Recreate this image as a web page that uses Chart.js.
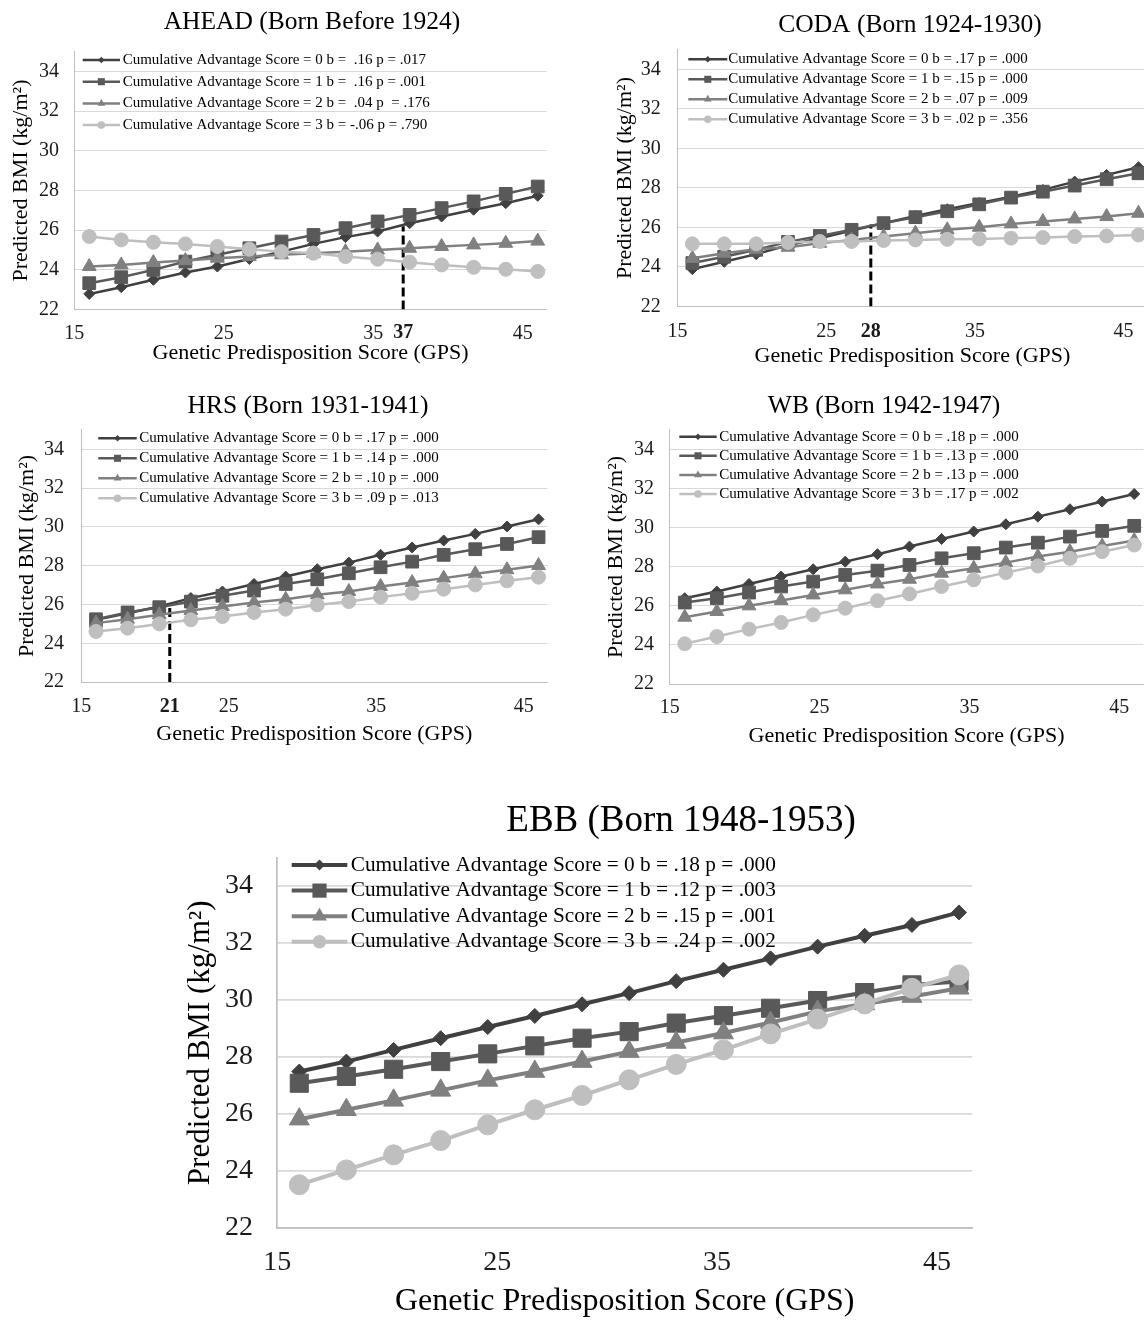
<!DOCTYPE html>
<html>
<head>
<meta charset="utf-8">
<script src="https://cdn.jsdelivr.net/npm/chart.js@4.4.1/dist/chart.umd.min.js"></script>
<style>
html,body{margin:0;padding:0;background:#fff;overflow:hidden;width:1144px;height:1324px;}
body{position:relative;}
.panel{position:absolute;}
.panel canvas{display:block;}
</style>
</head>
<body>
<div class="panel" id="pA"><canvas id="cA"></canvas></div>
<div class="panel" id="pB"><canvas id="cB"></canvas></div>
<div class="panel" id="pC"><canvas id="cC"></canvas></div>
<div class="panel" id="pD"><canvas id="cD"></canvas></div>
<div class="panel" id="pE"><canvas id="cE"></canvas></div>
<script>
// ---------------- DATA ----------------
const gps = [16, 18.14, 20.29, 22.43, 24.57, 26.71, 28.86, 31, 33.14, 35.29, 37.43, 39.57, 41.71, 43.86, 46];
const yTickValues = [22, 24, 26, 28, 30, 32, 34];
const xTickValues = [15, 25, 35, 45];
const yAxisTitle = 'Predicted BMI (kg/m²)';
const xAxisTitle = 'Genetic Predisposition Score (GPS)';

const aheadTitle = 'AHEAD (Born Before 1924)';
const aheadLegend = [
  'Cumulative Advantage Score = 0 b =  .16 p = .017',
  'Cumulative Advantage Score = 1 b =  .16 p = .001',
  'Cumulative Advantage Score = 2 b =  .04 p  = .176',
  'Cumulative Advantage Score = 3 b = -.06 p = .790'
];
const aheadScore0 = [22.79, 23.13, 23.50, 23.87, 24.17, 24.55, 24.92, 25.31, 25.65, 25.93, 26.35, 26.69, 27.03, 27.36, 27.73];
const aheadScore1 = [23.33, 23.63, 24.00, 24.42, 24.76, 25.09, 25.43, 25.76, 26.10, 26.44, 26.77, 27.11, 27.45, 27.83, 28.20];
const aheadScore2 = [24.17, 24.25, 24.37, 24.47, 24.59, 24.67, 24.76, 24.84, 24.92, 25.00, 25.09, 25.18, 25.26, 25.34, 25.45];
const aheadScore3 = [25.68, 25.51, 25.39, 25.31, 25.18, 25.04, 24.92, 24.84, 24.67, 24.54, 24.39, 24.25, 24.13, 24.03, 23.92];
const aheadCutoff = 37;
const aheadCutoffTop = 26.2;

const codaTitle = 'CODA (Born 1924-1930)';
const codaLegend = [
  'Cumulative Advantage Score = 0 b = .17 p = .000',
  'Cumulative Advantage Score = 1 b = .15 p = .000',
  'Cumulative Advantage Score = 2 b = .07 p = .009',
  'Cumulative Advantage Score = 3 b = .02 p = .356'
];
const codaScore0 = [23.89, 24.26, 24.65, 25.10, 25.45, 25.84, 26.21, 26.58, 26.92, 27.24, 27.55, 27.90, 28.32, 28.66, 29.05];
const codaScore1 = [24.20, 24.52, 24.87, 25.27, 25.57, 25.88, 26.22, 26.52, 26.82, 27.17, 27.51, 27.81, 28.12, 28.44, 28.74];
const codaScore2 = [24.44, 24.70, 24.90, 25.00, 25.20, 25.37, 25.54, 25.71, 25.88, 26.01, 26.18, 26.30, 26.43, 26.55, 26.72];
const codaScore3 = [25.17, 25.17, 25.17, 25.24, 25.29, 25.29, 25.34, 25.37, 25.40, 25.42, 25.46, 25.49, 25.54, 25.57, 25.62];
const codaCutoff = 28;
const codaCutoffTop = 26.15;

const hrsTitle = 'HRS (Born 1931-1941)';
const hrsLegend = [
  'Cumulative Advantage Score = 0 b = .17 p = .000',
  'Cumulative Advantage Score = 1 b = .14 p = .000',
  'Cumulative Advantage Score = 2 b = .10 p = .000',
  'Cumulative Advantage Score = 3 b = .09 p = .013'
];
const hrsScore0 = [25.21, 25.55, 25.90, 26.33, 26.67, 27.06, 27.44, 27.82, 28.16, 28.56, 28.94, 29.30, 29.64, 30.02, 30.39];
const hrsScore1 = [25.24, 25.59, 25.86, 26.15, 26.45, 26.72, 27.06, 27.30, 27.61, 27.92, 28.21, 28.56, 28.85, 29.12, 29.47];
const hrsScore2 = [25.04, 25.24, 25.47, 25.69, 25.90, 26.10, 26.27, 26.50, 26.67, 26.93, 27.13, 27.36, 27.58, 27.79, 28.01];
const hrsScore3 = [24.61, 24.78, 25.00, 25.21, 25.38, 25.59, 25.76, 25.98, 26.15, 26.38, 26.58, 26.79, 27.01, 27.22, 27.41];
const hrsCutoff = 21;
const hrsCutoffTop = 26.05;

const wbTitle = 'WB (Born 1942-1947)';
const wbLegend = [
  'Cumulative Advantage Score = 0 b = .18 p = .000',
  'Cumulative Advantage Score = 1 b = .13 p = .000',
  'Cumulative Advantage Score = 2 b = .13 p = .000',
  'Cumulative Advantage Score = 3 b = .17 p = .002'
];
const wbScore0 = [26.39, 26.73, 27.12, 27.50, 27.87, 28.26, 28.64, 29.03, 29.42, 29.80, 30.17, 30.56, 30.94, 31.33, 31.72];
const wbScore1 = [26.17, 26.39, 26.68, 26.99, 27.24, 27.58, 27.80, 28.09, 28.43, 28.69, 28.98, 29.23, 29.54, 29.83, 30.09];
const wbScore2 = [25.42, 25.71, 26.00, 26.27, 26.56, 26.82, 27.12, 27.36, 27.67, 27.92, 28.21, 28.52, 28.77, 29.06, 29.34];
const wbScore3 = [24.06, 24.43, 24.81, 25.15, 25.54, 25.88, 26.26, 26.61, 26.99, 27.33, 27.70, 28.04, 28.43, 28.77, 29.11];

const ebbTitle = 'EBB (Born 1948-1953)';
const ebbLegend = [
  'Cumulative Advantage Score = 0 b = .18 p = .000',
  'Cumulative Advantage Score = 1 b = .12 p = .003',
  'Cumulative Advantage Score = 2 b = .15 p = .001',
  'Cumulative Advantage Score = 3 b = .24 p = .002'
];
const ebbScore0 = [27.49, 27.84, 28.25, 28.66, 29.05, 29.44, 29.85, 30.24, 30.66, 31.06, 31.46, 31.87, 32.25, 32.63, 33.07];
const ebbScore1 = [27.08, 27.32, 27.57, 27.84, 28.11, 28.39, 28.66, 28.89, 29.19, 29.45, 29.71, 29.98, 30.26, 30.53, 30.65];
const ebbScore2 = [25.82, 26.15, 26.48, 26.83, 27.18, 27.49, 27.84, 28.19, 28.51, 28.84, 29.21, 29.60, 29.86, 30.12, 30.41];
const ebbScore3 = [23.52, 24.04, 24.57, 25.07, 25.62, 26.15, 26.65, 27.20, 27.74, 28.25, 28.81, 29.33, 29.86, 30.41, 30.88];

// ---------------- STYLE ----------------
const SERIF = "'Liberation Serif', 'Times New Roman', Times, serif";
const seriesColors = ['#404040', '#595959', '#808080', '#bfbfbf'];
const seriesStyles = ['rectRot', 'rect', 'triangle', 'circle'];

const smallStyle = {
  titleSize: 25.5, xTitleSize: 22, yTitleSize: 22, tickSize: 20, legendSize: 15,
  lineWidth: 2.5, pointRadius: [5.5, 9, 8, 7], legendRadius: [3.2, 5, 4.5, 3.8], legendLineWidth: 2.5,
  gridWidth: 1, axisWidth: 1, cutWidth: 3, cutDash: [9, 4]
};
const bigStyle = {
  titleSize: 37, xTitleSize: 32, yTitleSize: 31, tickSize: 28, legendSize: 21.3,
  lineWidth: 4, pointRadius: [7.5, 12.8, 11.5, 10], legendRadius: [5.5, 10, 8.5, 6.8], legendLineWidth: 4,
  gridWidth: 1.7, axisWidth: 1.7, cutWidth: 4, cutDash: [12, 5]
};

function drawMarker(ctx, style, x, y, r) {
  ctx.beginPath();
  if (style === 'circle') {
    ctx.arc(x, y, r, 0, Math.PI * 2);
  } else if (style === 'rect') {
    const s = r * Math.SQRT1_2;
    ctx.rect(x - s, y - s, 2 * s, 2 * s);
  } else if (style === 'rectRot') {
    ctx.moveTo(x - r, y); ctx.lineTo(x, y - r); ctx.lineTo(x + r, y); ctx.lineTo(x, y + r); ctx.closePath();
  } else {
    for (let k = 0; k < 3; k++) {
      const a = k * 2 * Math.PI / 3;
      const px = x + Math.sin(a) * r, py = y - Math.cos(a) * r;
      if (k === 0) ctx.moveTo(px, py); else ctx.lineTo(px, py);
    }
    ctx.closePath();
  }
  ctx.fill();
}

const insideLegend = {
  id: 'insideLegend',
  afterDatasetsDraw(chart, args, opts) {
    if (!opts || !opts.items) return;
    const {ctx, chartArea} = chart;
    ctx.save();
    opts.items.forEach((label, i) => {
      const y = chartArea.top + opts.top + i * opts.dy;
      const x0 = chartArea.left + opts.lineStart;
      const x1 = chartArea.left + opts.lineEnd;
      ctx.strokeStyle = seriesColors[i];
      ctx.lineWidth = opts.lineWidth;
      ctx.beginPath(); ctx.moveTo(x0, y); ctx.lineTo(x1, y); ctx.stroke();
      ctx.fillStyle = seriesColors[i];
      drawMarker(ctx, seriesStyles[i], (x0 + x1) / 2, y, opts.radius[i]);
      ctx.fillStyle = '#000';
      ctx.font = opts.fontSize + 'px ' + SERIF;
      ctx.textBaseline = 'middle';
      ctx.textAlign = 'left';
      ctx.fillText(label, chartArea.left + opts.textStart, y);
    });
    ctx.restore();
  }
};

function makePanel(id, cfg) {
  const st = cfg.style;
  const titleLH = st.titleSize * 1.2;
  const xTitleLH = st.xTitleSize * 1.2;
  const yTitleLH = st.yTitleSize * 1.2;
  const tickLH = st.tickSize * 1.2;
  const dummyW = Math.max(0, 2 * cfg.titleX - cfg.cx - cfg.R);
  const cw = Math.round(cfg.R - cfg.cx + dummyW);
  const xH = cfg.xTitleY - cfg.B + xTitleLH / 2;
  const ch = Math.round(cfg.B - cfg.cy + xH);
  const yW = cfg.L - cfg.cx;
  const titlePadTop = cfg.titleY - cfg.cy - titleLH / 2;
  const titlePadBottom = cfg.T - cfg.cy - titleLH - titlePadTop;
  const yTitlePad = cfg.yTitleX - cfg.cx - yTitleLH / 2;
  const yTickPad = cfg.L - cfg.yTickRight;
  const xTickPad = cfg.xTickY - cfg.B - tickLH / 2;

  const panel = document.getElementById('p' + id);
  panel.style.left = cfg.cx + 'px';
  panel.style.top = cfg.cy + 'px';
  const canvas = document.getElementById('c' + id);
  canvas.width = cw; canvas.height = ch;
  canvas.style.width = cw + 'px'; canvas.style.height = ch + 'px';

  const xTicks = xTickValues.slice();
  if (cfg.cutoff !== undefined) xTicks.push(cfg.cutoff);
  xTicks.sort((a, b) => a - b);

  const datasets = cfg.series.map((vals, i) => ({
    label: cfg.legend[i],
    data: gps.map((g, k) => ({x: g, y: vals[k]})),
    borderColor: seriesColors[i],
    backgroundColor: seriesColors[i],
    pointBackgroundColor: seriesColors[i],
    pointBorderColor: seriesColors[i],
    pointBorderWidth: 1,
    pointStyle: seriesStyles[i],
    pointRadius: st.pointRadius[i],
    pointHoverRadius: st.pointRadius[i],
    borderWidth: st.lineWidth,
    tension: 0,
    fill: false,
    order: 4 - i
  }));
  if (cfg.cutoff !== undefined) {
    datasets.push({
      label: 'cutoff',
      data: [{x: cfg.cutoff, y: 22}, {x: cfg.cutoff, y: cfg.cutoffTop}],
      borderColor: '#000',
      borderWidth: st.cutWidth,
      borderDash: st.cutDash,
      pointRadius: 0,
      fill: false,
      order: 5
    });
  }

  new Chart(canvas, {
    type: 'line',
    data: {datasets},
    plugins: [insideLegend],
    options: {
      responsive: false,
      animation: false,
      devicePixelRatio: 1,
      events: [],
      layout: {padding: {left: 0, right: 0, top: 0, bottom: 0}},
      plugins: {
        legend: {display: false},
        tooltip: {enabled: false},
        title: {
          display: true, text: cfg.title, color: '#000', fullSize: true,
          font: {family: SERIF, size: st.titleSize, weight: 'normal', lineHeight: 1.2},
          padding: {top: titlePadTop, bottom: titlePadBottom}
        },
        insideLegend: {
          items: cfg.legend, top: cfg.lg.top, dy: cfg.lg.dy,
          lineStart: cfg.lg.lineStart, lineEnd: cfg.lg.lineEnd, textStart: cfg.lg.textStart,
          fontSize: st.legendSize, radius: st.legendRadius, lineWidth: st.legendLineWidth
        }
      },
      scales: {
        x: {
          type: 'linear', position: 'bottom', min: 15, max: 46.6,
          afterBuildTicks: s => { s.ticks = xTicks.map(v => ({value: v})); },
          afterFit: s => { s.height = xH; },
          grid: {display: false, drawTicks: false},
          border: {display: true, color: '#bfbfbf', width: st.axisWidth},
          ticks: {
            autoSkip: false, maxRotation: 0, minRotation: 0, padding: xTickPad, color: '#1a1a1a',
            callback: v => String(v),
            font: ctx => ({family: SERIF, size: st.tickSize, lineHeight: 1.2,
              weight: (ctx.tick && ctx.tick.value === cfg.cutoff) ? 'bold' : 'normal'})
          },
          title: {display: true, text: xAxisTitle, color: '#000',
            font: {family: SERIF, size: st.xTitleSize, lineHeight: 1.2}, padding: {top: 0, bottom: 0}}
        },
        y: {
          type: 'linear', position: 'left', min: 22, max: 35,
          afterBuildTicks: s => { s.ticks = yTickValues.map(v => ({value: v})); },
          afterFit: s => { s.width = yW; },
          grid: {color: '#d9d9d9', lineWidth: st.gridWidth, drawTicks: false},
          border: {display: true, color: '#bfbfbf', width: st.axisWidth},
          ticks: {padding: yTickPad, color: '#1a1a1a', font: {family: SERIF, size: st.tickSize, lineHeight: 1.2},
            callback: v => String(v)},
          title: {display: true, text: yAxisTitle, color: '#000',
            font: {family: SERIF, size: st.yTitleSize, lineHeight: 1.2}, padding: {top: yTitlePad, bottom: 0}}
        },
        spacer: {
          type: 'linear', position: 'right', display: true,
          grid: {display: false, drawTicks: false}, border: {display: false},
          ticks: {display: false},
          afterFit: s => { s.width = dummyW; }
        }
      }
    }
  });
}

makePanel('A', {
  cx: 0, cy: 0, L: 74.3, R: 546.7, T: 51.5, B: 309.3,
  titleX: 312, titleY: 22, yTitleX: 21, yTickRight: 59, xTickY: 333, xTitleY: 352.5,
  title: aheadTitle, legend: aheadLegend,
  series: [aheadScore0, aheadScore1, aheadScore2, aheadScore3],
  cutoff: aheadCutoff, cutoffTop: aheadCutoffTop, style: smallStyle,
  lg: {lineStart: 8.4, lineEnd: 45.7, textStart: 48.4, top: 8.5, dy: 21.7}
});
makePanel('B', {
  cx: 580, cy: 0, L: 677.5, R: 1147.4, T: 49.6, B: 306.7,
  titleX: 910, titleY: 25, yTitleX: 625, yTickRight: 660.7, xTickY: 331.7, xTitleY: 356,
  title: codaTitle, legend: codaLegend,
  series: [codaScore0, codaScore1, codaScore2, codaScore3],
  cutoff: codaCutoff, cutoffTop: codaCutoffTop, style: smallStyle,
  lg: {lineStart: 10.8, lineEnd: 49.8, textStart: 50.8, top: 9.7, dy: 20}
});
makePanel('C', {
  cx: 0, cy: 385, L: 81.25, R: 547.4, T: 429.9, B: 682.3,
  titleX: 308, titleY: 406.7, yTitleX: 27, yTickRight: 64, xTickY: 706.7, xTitleY: 734,
  title: hrsTitle, legend: hrsLegend,
  series: [hrsScore0, hrsScore1, hrsScore2, hrsScore3],
  cutoff: hrsCutoff, cutoffTop: hrsCutoffTop, style: smallStyle,
  lg: {lineStart: 17, lineEnd: 55.5, textStart: 58, top: 8.4, dy: 20}
});
makePanel('D', {
  cx: 580, cy: 385, L: 669.8, R: 1143.2, T: 429.8, B: 684.3,
  titleX: 884, titleY: 406.7, yTitleX: 616, yTickRight: 654, xTickY: 708, xTitleY: 736,
  title: wbTitle, legend: wbLegend,
  series: [wbScore0, wbScore1, wbScore2, wbScore3],
  style: smallStyle,
  lg: {lineStart: 9.5, lineEnd: 46.9, textStart: 49.5, top: 6.9, dy: 19.1}
});
makePanel('E', {
  cx: 180, cy: 790, L: 277.3, R: 972.2, T: 857.4, B: 1228.3,
  titleX: 681, titleY: 821.7, yTitleX: 201, yTickRight: 253, xTickY: 1263, xTitleY: 1302,
  title: ebbTitle, legend: ebbLegend,
  series: [ebbScore0, ebbScore1, ebbScore2, ebbScore3],
  style: bigStyle,
  lg: {lineStart: 14.4, lineEnd: 70, textStart: 73.4, top: 7.6, dy: 25.6}
});
</script>
</body>
</html>
